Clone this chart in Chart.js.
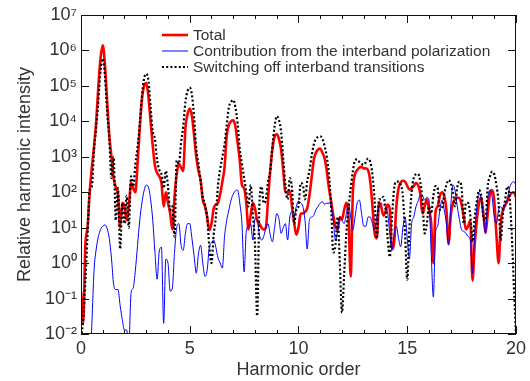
<!DOCTYPE html>
<html>
<head>
<meta charset="utf-8">
<script src="https://cdn.jsdelivr.net/npm/chart.js@4"></script>
<style>
  html, body { margin: 0; padding: 0; background: #fff; }
  canvas { display: block; }
</style>
</head>
<body>
<canvas id="hhg" width="530" height="381"></canvas>
<script>
// harmonic order grid (0.1 steps)
const harmonic = [
  0.0, 0.1, 0.2, 0.3, 0.4, 0.5, 0.6, 0.7, 0.8, 0.9,
  1.0, 1.1, 1.2, 1.3, 1.4, 1.5, 1.6, 1.7, 1.8, 1.9,
  2.0, 2.1, 2.2, 2.3, 2.4, 2.5, 2.6, 2.7, 2.8, 2.9,
  3.0, 3.1, 3.2, 3.3, 3.4, 3.5, 3.6, 3.7, 3.8, 3.9,
  4.0, 4.1, 4.2, 4.3, 4.4, 4.5, 4.6, 4.7, 4.8, 4.9,
  5.0, 5.1, 5.2, 5.3, 5.4, 5.5, 5.6, 5.7, 5.8, 5.9,
  6.0, 6.1, 6.2, 6.3, 6.4, 6.5, 6.6, 6.7, 6.8, 6.9,
  7.0, 7.1, 7.2, 7.3, 7.4, 7.5, 7.6, 7.7, 7.8, 7.9,
  8.0, 8.1, 8.2, 8.3, 8.4, 8.5, 8.6, 8.7, 8.8, 8.9,
  9.0, 9.1, 9.2, 9.3, 9.4, 9.5, 9.6, 9.7, 9.8, 9.9,
  10.0, 10.1, 10.2, 10.3, 10.4, 10.5, 10.6, 10.7, 10.8, 10.9,
  11.0, 11.1, 11.2, 11.3, 11.4, 11.5, 11.6, 11.7, 11.8, 11.9,
  12.0, 12.1, 12.2, 12.3, 12.4, 12.5, 12.6, 12.7, 12.8, 12.9,
  13.0, 13.1, 13.2, 13.3, 13.4, 13.5, 13.6, 13.7, 13.8, 13.9,
  14.0, 14.1, 14.2, 14.3, 14.4, 14.5, 14.6, 14.7, 14.8, 14.9,
  15.0, 15.1, 15.2, 15.3, 15.4, 15.5, 15.6, 15.7, 15.8, 15.9,
  16.0, 16.1, 16.2, 16.3, 16.4, 16.5, 16.6, 16.7, 16.8, 16.9,
  17.0, 17.1, 17.2, 17.3, 17.4, 17.5, 17.6, 17.7, 17.8, 17.9,
  18.0, 18.1, 18.2, 18.3, 18.4, 18.5, 18.6, 18.7, 18.8, 18.9,
  19.0, 19.1, 19.2, 19.3, 19.4, 19.5, 19.6, 19.7, 19.8, 19.9,
  20.0
];

// Total
const total = [
  0.16, 0.02, 3.2, 10, 100, 500, 2e3, 1e4, 1e5, 6.3e5,
  1.4e6, 4e5, 4e4, 4e3, 1e3, 250, 140, 89, 10, 50,
  40, 16, 40, 180, 130, 100, 630, 6.3e3, 4e4, 1e5,
  1.2e5, 5e4, 1e4, 2e3, 560, 350, 280, 180, 40, 100,
  50, 25, 8.9, 74, 320, 630, 500, 400, 6.3e3, 1.6e4,
  2.3e4, 1.4e4, 4e3, 1e3, 400, 220, 60, 40, 20, 8.5,
  13, 35, 45, 50, 89, 200, 500, 4e3, 7.9e3, 1e4,
  1.07e4, 7.1e3, 2.5e3, 790, 160, 130, 50, 8.9, 22, 50,
  35, 16, 13, 10, 8.9, 10, 63, 400, 1.6e3, 3.7e3,
  4.3e3, 3.2e3, 1.6e3, 400, 100, 100, 110, 40, 14, 6.3,
  10, 25, 25, 28, 35, 79, 250, 790, 1.3e3, 1.6e3,
  1.7e3, 1.3e3, 890, 400, 130, 56, 22, 11, 8.9, 20,
  17, 32, 50, 20, 0.42, 100, 320, 420, 500, 520,
  470, 470, 420, 200, 40, 6.9, 5, 50, 40, 22,
  28, 45, 32, 2.5, 4, 40, 130, 190, 210, 200,
  150, 120, 130, 150, 180, 160, 89, 25, 40, 63,
  32, 14, 1, 28, 40, 79, 100, 79, 32, 3.6,
  22, 49, 63, 71, 68, 45, 20, 8.9, 11, 16,
  0.32, 3.2, 16, 50, 71, 25, 7.1, 25, 89, 115,
  60, 6.3, 1, 13, 32, 42, 56, 79, 95, 100,
  74
];

// Contribution from the interband polarization
const interband = [
  0.001, 0.001, 0.001, 0.001, 0.001, 0.02, 0.63, 2.5, 5.6, 8.9,
  11, 12, 9.5, 5, 1.4, 0.25, 0.18, 0.18, 0.063, 0.025,
  0.013, 0.013, 0.005, 0.14, 0.2, 0.63, 3.2, 16, 50, 110,
  160, 140, 63, 16, 2, 0.35, 2.2, 2.8, 0.02, 1.3,
  1, 0.16, 0.2, 2, 10, 13, 3.2, 2.3, 6.9, 13,
  13, 5, 1.6, 0.52, 1.8, 3.2, 1, 0.42, 0.63, 2.8,
  3.7, 4.5, 2.8, 1.4, 1, 0.72, 5.6, 16, 32, 60,
  89, 110, 115, 50, 13, 0.56, 7.9, 11, 13, 4.5,
  18, 17, 6.3, 4.5, 5.6, 10, 13, 6.3, 4, 10,
  25, 18, 6.9, 10, 13, 4.5, 20, 28, 20, 40,
  56, 50, 40, 16, 2.5, 16, 20, 22, 32, 40,
  49, 54, 46, 49, 49, 40, 16, 4.5, 7.9, 20,
  16, 13, 25, 49, 20, 8.5, 20, 50, 60, 25,
  11, 11, 20, 20, 13, 8.5, 20, 40, 49, 44,
  39, 26, 6.3, 2.3, 6.3, 11, 5, 2.9, 10, 20,
  5, 1.3, 13, 20, 39, 56, 83, 79, 60, 72,
  60, 2, 0.11, 7.1, 11, 32, 60, 32, 13, 3.2,
  40, 160, 110, 40, 17, 8.7, 7.9, 6.9, 5.6, 4.5,
  0.51, 6.9, 39, 93, 63, 20, 6.9, 63, 115, 74,
  20, 13, 32, 39, 32, 45, 63, 130, 180, 200,
  160
];

// Switching off interband transitions
const switchedOff = [
  0.008, 0.025, 0.32, 6.3, 115, 145, 1.6e3, 7.1e3, 4e4, 2.8e5,
  5.9e5, 2e5, 2e4, 3.5e3, 250, 1e3, 16, 130, 2.5, 50,
  13, 79, 10, 280, 145, 630, 1.9e3, 7.9e3, 5e4, 1.6e5,
  2.2e5, 1.4e5, 2.5e4, 5e3, 3.2e3, 790, 430, 320, 130, 400,
  145, 32, 40, 5.6, 790, 630, 2.5e3, 7.1e3, 3.5e4, 7.1e4,
  8.9e4, 5.6e4, 1.3e4, 1.6e3, 630, 200, 74, 45, 20, 3,
  1, 6.3, 20, 160, 450, 1e3, 2.2e3, 7.9e3, 2.5e4, 3.5e4,
  4e4, 2.5e4, 8.7e3, 1.6e3, 630, 250, 100, 40, 160, 25,
  3.2, 0.032, 40, 145, 49, 63, 200, 400, 2e3, 7.1e3,
  1.4e4, 1.1e4, 5e3, 890, 145, 63, 250, 130, 13, 32,
  40, 180, 160, 63, 200, 400, 1e3, 2.2e3, 3.2e3, 3.6e3,
  3.8e3, 3.2e3, 2e3, 1e3, 320, 40, 2, 3.2, 20, 1,
  0.04, 0.5, 6.9, 35, 130, 400, 790, 850, 710, 630,
  590, 710, 890, 710, 320, 60, 5, 63, 63, 74,
  35, 5, 1.5, 20, 130, 200, 200, 160, 79, 6.3,
  0.34, 10, 100, 250, 320, 330, 200, 60, 6.9, 13,
  40, 25, 79, 150, 130, 32, 35, 89, 160, 220,
  180, 100, 40, 140, 200, 130, 13, 50, 50, 22,
  4, 20, 56, 115, 79, 20, 16, 145, 275, 380,
  320, 160, 50, 4.5, 25, 60, 145, 79, 7.9, 0.25,
  0.01
];

const seriesLabels = [
  'Total',
  'Contribution from the interband polarization',
  'Switching off interband transitions'
];

const xTicks = [0, 5, 10, 15, 20];
const xMinorTicks = [0, 1, 2, 3, 4, 5, 6, 7, 8, 9, 10, 11, 12, 13, 14, 15, 16, 17, 18, 19, 20];
const yTicks = [1e-2, 1e-1, 1e0, 1e1, 1e2, 1e3, 1e4, 1e5, 1e6, 1e7];
const yTickLabels = ['10⁻²', '10⁻¹', '10⁰', '10¹', '10²', '10³', '10⁴', '10⁵', '10⁶', '10⁷'];

const FONT = '"Liberation Sans", Arial, Helvetica, sans-serif';
const TEXT = '#333';

const points = (ys) => harmonic.map((h, i) => ({ x: h, y: ys[i] }));

// box frame with inward ticks on all four sides
const framePlugin = {
  id: 'frame',
  afterDatasetsDraw(chart) {
    const { ctx, chartArea: a, scales: { x, y } } = chart;
    ctx.save();
    ctx.strokeStyle = '#111';
    ctx.lineWidth = 1;
    ctx.strokeRect(a.left + 0.5, a.top + 0.5, a.right - a.left - 1, a.bottom - a.top - 1);
    ctx.beginPath();
    xMinorTicks.forEach(v => {
      const px = Math.round(x.getPixelForValue(v)) + 0.5;
      const len = v % 5 === 0 ? 8 : 4;
      ctx.moveTo(px, a.bottom);
      ctx.lineTo(px, a.bottom - len);
      ctx.moveTo(px, a.top);
      ctx.lineTo(px, a.top + len);
    });
    yTicks.forEach(v => {
      const py = Math.round(y.getPixelForValue(v)) + 0.5;
      ctx.moveTo(a.left, py);
      ctx.lineTo(a.left + 8, py);
      ctx.moveTo(a.right, py);
      ctx.lineTo(a.right - 8, py);
    });
    ctx.stroke();
    ctx.restore();
  }
};

// legend inside the plot, upper middle
const legendPlugin = {
  id: 'innerLegend',
  afterDraw(chart) {
    const { ctx } = chart;
    ctx.save();
    ctx.font = '15.5px ' + FONT;
    ctx.textBaseline = 'middle';
    ctx.fillStyle = TEXT;
    chart.data.datasets.forEach((ds, i) => {
      const yy = 35 + i * 16;
      ctx.beginPath();
      ctx.strokeStyle = ds.borderColor;
      ctx.lineWidth = ds.borderWidth;
      ctx.setLineDash(ds.borderDash || []);
      ctx.moveTo(162, yy);
      ctx.lineTo(188, yy);
      ctx.stroke();
      ctx.fillText(ds.label, 193, yy + 1);
    });
    ctx.restore();
  }
};

new Chart(document.getElementById('hhg'), {
  type: 'line',
  data: {
    datasets: [
      {
        label: seriesLabels[0],
        data: points(total),
        borderColor: '#ff0000',
        borderWidth: 2.6,
        order: 2
      },
      {
        label: seriesLabels[1],
        data: points(interband),
        borderColor: '#0000ff',
        borderWidth: 1,
        order: 1
      },
      {
        label: seriesLabels[2],
        data: points(switchedOff),
        borderColor: '#000000',
        borderWidth: 2.2,
        borderDash: [2, 2.2],
        order: 0
      }
    ]
  },
  options: {
    responsive: false,
    animation: false,
    devicePixelRatio: 1,
    layout: { padding: { top: 15, right: 12, left: 0, bottom: 0 } },
    elements: {
      point: { radius: 0 },
      line: { cubicInterpolationMode: 'monotone', fill: false }
    },
    datasets: { line: { clip: 0 } },
    plugins: {
      legend: { display: false },
      tooltip: { enabled: false }
    },
    scales: {
      x: {
        type: 'linear',
        min: 0,
        max: 20,
        afterBuildTicks: s => { s.ticks = xTicks.map(v => ({ value: v })); },
        afterFit: s => { s.height = 47; },
        grid: { display: false, drawTicks: false },
        border: { display: false },
        ticks: {
          autoSkip: false,
          maxRotation: 0,
          padding: 4,
          color: TEXT,
          font: { family: FONT, size: 18 }
        },
        title: {
          display: true,
          text: 'Harmonic order',
          color: TEXT,
          font: { family: FONT, size: 18 },
          padding: { top: 0, bottom: 0 }
        }
      },
      y: {
        type: 'logarithmic',
        min: 1e-2,
        max: 1e7,
        afterBuildTicks: s => { s.ticks = yTicks.map(v => ({ value: v })); },
        afterFit: s => { s.width = 81; },
        grid: { display: false, drawTicks: false },
        border: { display: false },
        ticks: {
          autoSkip: false,
          padding: 4,
          color: TEXT,
          font: { family: FONT, size: 18 },
          callback: (v, i) => yTickLabels[i]
        },
        title: {
          display: true,
          text: 'Relative harmonic intensity',
          color: TEXT,
          font: { family: FONT, size: 18 },
          padding: { top: 14, bottom: 0 }
        }
      }
    }
  },
  plugins: [framePlugin, legendPlugin]
});
</script>
</body>
</html>
